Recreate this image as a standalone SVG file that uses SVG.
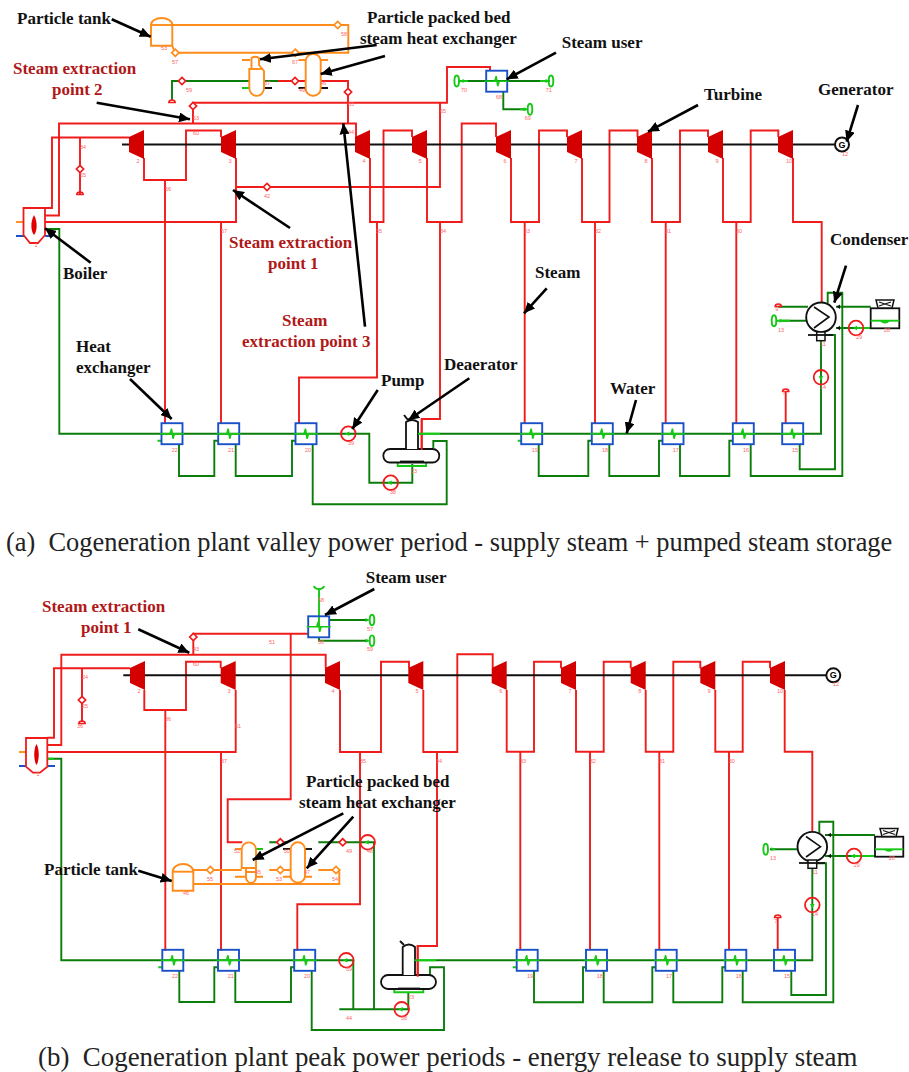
<svg xmlns="http://www.w3.org/2000/svg" width="909" height="1072" viewBox="0 0 909 1072">
<style>
text{font-family:"Liberation Serif","Times New Roman",serif}
.lb{font-size:17px;font-weight:bold;fill:#111}
.rd{font-size:17px;font-weight:bold;fill:#b01818}
.cap{font-size:26.4px;fill:#222;white-space:pre}
.n{font-family:"Liberation Sans",Arial,sans-serif;font-size:5.5px;fill:#f66;text-anchor:middle}
.l{fill:none;stroke-width:1.9;stroke-linejoin:miter}
.s{stroke:#f01c1c}.w{stroke:#0a7d0a}.g{stroke:#14c814}.o{stroke:#ff8c1a}.k{stroke:#111}.b{stroke:#1a50c8}
.sh{fill:none;stroke:#111;stroke-width:2}
.ar{fill:none;stroke:#000;stroke-width:2.6;marker-end:url(#ah)}
.e{fill:none;stroke:#14c814;stroke-width:1.9}
.tr{fill:#14c814}
</style>
<defs>
<marker id="ah" markerUnits="userSpaceOnUse" markerWidth="12" markerHeight="10" refX="11" refY="5" orient="auto"><path d="M0 0L11 5L0 10Z" fill="#000"/></marker>
<path id="tb" d="M0 7L15 0V29L0 22Z" fill="#d40000"/>
<g id="hx"><rect x="-10.5" y="-10.5" width="21" height="21" fill="none" stroke="#1a50c8" stroke-width="1.9"/><path d="M-12 0H12M-5 0L-2 0L-0.5 -5L1 5L2.5 0H5" fill="none" stroke="#14c814" stroke-width="1.5"/></g>
<path id="va" d="M0 -3.6L3.6 0L0 3.6L-3.6 0Z" fill="#fff" stroke-width="1.7"/>
<g id="pu"><circle r="7.3" fill="none" stroke="#f01c1c" stroke-width="1.8"/><path d="M-3.5 0L1 -2.3V2.3Z" fill="#14c814"/></g>
<path id="da" d="M-3.2 0.5C-3.2 -3 3.2 -3 3.2 0.5Z" fill="none" stroke="#f01c1c" stroke-width="1.5"/>
<path id="ta" d="M2.5 0L-1.5 -2V2Z" fill="#14c814"/>
<g id="fan"><path d="M0 0H18L16 8H2Z" fill="#fff" stroke="#111" stroke-width="1.5"/><path d="M3 2L15 6M15 2L3 6" stroke="#111" stroke-width="1.3"/></g>
</defs>

<g id="connectors-a">
<path class="l s" d="M45 208H52V137.5H129M45 215.5H59V123.5H356V137M45 222H236V158M144 158V180H186V130.5H221V137M165 180V423M221 222V423M236 187H440V102.7H193V123.5M440 102.7H447V67H490V71M370 158V222H383.5V130.5H412V137M377 222V377.5H299V423M427 158V222H461.7V123.5H496V137M440 222V419H421.7V450M348 123.5V81H278M511 158V222H539V130.5H567V137M524.7 222V423M582 158V222H609.5V130.5H637.5V137M595 222V423M652 158V222H680V130.5H708V137M665.7 222V423M723 158V222H750.7V130.5H778.3V137M736.3 222V423M793 158V222H821.7V303M785.7 423V392M80 138V195"/>
<path class="l w" d="M45 229H59.3V433.7H348M348 433.7H369.3V482.7H412.3V464M278 81H172V100M179 444V476H214.3V440.7H218M235.7 444V476H292V440.7H295.3M312.7 444V504.3H446.7V441H433.3V448M440 433.7H821V341M538.7 444V476H588.3V440.7H591.7M609.3 444V476H659V440.7H662.3M680 444V476H729.3V440.7H732.7M750.7 444V476H842.3V292.7H827.7V303.3M799.7 444V469.3H835V335H826M778.3 306.7H808M780 320.7H807M836 306.7H870.7M836 328H856M462 81H546M503.3 91.7V109.3H526"/>
<path class="l g" d="M418 433.7H440M397.7 462V466H426V462M157.5 440.7H161.3M517.7 440.7H521M242 88H250M856 328H870.7M458 81H468M540 81H550M520 109.3H528M776 320.7H790"/>
<path class="l k" d="M263 88H272M298.5 88H328"/>
<path class="l o" d="M172.3 25H348.3V52.7H175L172.3 46M242 60H250M264 60H267M298.5 60H328"/>
<path class="l b" d="M16 236H25M45 236H53"/>
<path class="l o" d="M16 222H25"/>
<path d="M122 144.5H835" class="sh"/>
</g>

<g id="a-boiler"><path d="M23.5 208H45V235L38 243H30L23.5 235Z" fill="#fff" stroke="#f01c1c" stroke-width="1.8"/><path d="M34 215C30 222 31 232 34 235C37 232 38 222 34 215Z" fill="#e00000"/><text class="n" x="36" y="247">1</text></g>
<g id="a-t2"><use href="#tb" x="129" y="130"/><text class="n" x="138" y="163">2</text></g>
<g id="a-t3"><use href="#tb" x="221" y="130"/><text class="n" x="230" y="163">3</text></g>
<g id="a-t4"><use href="#tb" x="355" y="130"/><text class="n" x="364" y="163">4</text></g>
<g id="a-t5"><use href="#tb" x="412" y="130"/><text class="n" x="420" y="163">5</text></g>
<g id="a-t6"><use href="#tb" x="496" y="130"/><text class="n" x="505" y="163">6</text></g>
<g id="a-t7"><use href="#tb" x="567" y="130"/><text class="n" x="576" y="163">7</text></g>
<g id="a-t8"><use href="#tb" x="637" y="130"/><text class="n" x="646" y="163">8</text></g>
<g id="a-t9"><use href="#tb" x="708" y="130"/><text class="n" x="717" y="163">9</text></g>
<g id="a-t10"><use href="#tb" x="778" y="130"/><text class="n" x="789" y="163">10</text></g>
<g id="a-gen"><circle cx="842" cy="144.5" r="7" fill="#fff" stroke="#111" stroke-width="2"/><text x="842" y="147.5" font-size="9" font-weight="bold" text-anchor="middle" style="font-family:'Liberation Sans',sans-serif">G</text><text class="n" x="845" y="156">12</text></g>
<g id="a-hx22"><use href="#hx" x="172" y="433.7"/><text class="n" x="174.7" y="452">22</text></g>
<g id="a-hx21"><use href="#hx" x="228.7" y="433.7"/><text class="n" x="231" y="452">21</text></g>
<g id="a-hx20"><use href="#hx" x="306" y="433.7"/><text class="n" x="308" y="452">20</text></g>
<g id="a-hx19"><use href="#hx" x="531.7" y="433.7"/><text class="n" x="534.7" y="452">19</text></g>
<g id="a-hx18"><use href="#hx" x="602.3" y="433.7"/><text class="n" x="605" y="452">18</text></g>
<g id="a-hx17"><use href="#hx" x="673" y="433.7"/><text class="n" x="675.7" y="452">17</text></g>
<g id="a-hx16"><use href="#hx" x="743.3" y="433.7"/><text class="n" x="746" y="452">16</text></g>
<g id="a-hx15"><use href="#hx" x="792.7" y="433.7"/><text class="n" x="795" y="452">15</text></g>
<g id="a-user"><use href="#hx" x="496.7" y="81.2"/><ellipse class="e" cx="456.7" cy="81" rx="2.3" ry="5.5"/><ellipse class="e" cx="551" cy="81" rx="2.3" ry="5.5"/><ellipse class="e" cx="530" cy="109.3" rx="2.3" ry="5.5"/><use href="#ta" x="464" y="81"/><use href="#ta" x="547" y="81"/><use href="#ta" x="525" y="109.3"/><text class="n" x="464" y="92">70</text><text class="n" x="548.7" y="92">71</text><text class="n" x="499" y="99">68</text><text class="n" x="527.7" y="120">69</text></g>
<g id="a-pump39"><use href="#pu" x="348.3" y="433.7"/><text class="n" x="351" y="445">39</text></g>
<g id="a-pump38"><use href="#pu" x="390.7" y="482.7"/><text class="n" x="393" y="494">38</text></g>
<g id="a-pump14"><use href="#pu" transform="translate(821 377.3) rotate(-90)"/><text class="n" x="823" y="389">14</text></g>
<g id="a-pump29"><use href="#pu" x="856" y="328"/><text class="n" x="859" y="339">29</text></g>
<g id="a-deaerator"><rect x="383.3" y="449" width="56" height="13.5" rx="6.7" fill="#fff" stroke="#111" stroke-width="1.8"/><path d="M406 449V422Q412 418 418 422V449" fill="#fff" stroke="#111" stroke-width="1.8"/><path d="M404 415L408 420" stroke="#111" stroke-width="2"/><path d="M421.7 419V450" class="l s"/><path d="M400 461.5H424" stroke="#111" stroke-width="1.8"/><path d="M418 433.7H440" class="l g"/><text class="n" x="414" y="473">23</text></g>
<g id="a-condenser"><circle cx="821" cy="317.3" r="14.8" fill="#fff" stroke="#111" stroke-width="1.9"/><path d="M814 307L829 317L814 328" fill="none" stroke="#111" stroke-width="1.6"/><rect x="816.7" y="332" width="8.3" height="8.7" fill="#fff" stroke="#111" stroke-width="1.5"/><path d="M808 335H833" stroke="#111" stroke-width="1.8"/><use href="#da" x="778.3" y="306"/><ellipse class="e" cx="774" cy="320.7" rx="2.3" ry="5.5"/><use href="#ta" x="781" y="320.7"/><path d="M840 304.5V309L836.5 306.7ZM840 325.8V330.2L836.5 328Z" fill="#111"/><text class="n" x="781" y="332">13</text><text class="n" x="823" y="346">11</text><text class="n" x="776.7" y="311">9</text></g>
<g id="a-tower"><rect x="870.7" y="308.3" width="28.6" height="20" fill="#fff" stroke="#111" stroke-width="1.8"/><use href="#fan" x="876" y="300"/><path d="M870.7 320.7H899.3" class="l g"/><path d="M880 321Q885 326 890 321Z" fill="#14c814"/><text class="n" x="887" y="332">28</text></g>
<g id="a-tank"><path d="M151 45.7V25A10.6 7 0 0 1 172.3 25V45.7Z" fill="#fff" stroke="#ff8c1a" stroke-width="1.9"/><path d="M151 25H172.3" class="l o"/><text class="n" x="164" y="50">53</text></g>
<g id="a-bed1"><path d="M251.5 69V58A6 5 0 0 1 259 58V65L264 71V88A7 7.5 0 0 1 249.3 88V69Z" fill="#fff" stroke="#ff8c1a" stroke-width="1.9"/><path d="M250 69H263" class="l o"/><text class="n" x="267" y="85">37</text></g>
<g id="a-bed2"><rect x="305.7" y="54" width="15" height="41.7" rx="7" fill="#fff" stroke="#ff8c1a" stroke-width="1.9"/><text class="n" x="323" y="85">46</text></g>
<g id="a-valves">
<use href="#va" class="o" x="175.3" y="52.7"/><use href="#va" class="o" x="337.7" y="25"/><use href="#va" class="o" x="295.3" y="52.7"/>
<use href="#va" class="s" x="182" y="81"/><use href="#va" class="s" x="295" y="81"/><use href="#va" class="s" x="348" y="92"/><use href="#va" class="s" x="193" y="106"/><use href="#va" class="s" x="267" y="187"/><use href="#va" class="s" x="80" y="169"/>
<use href="#da" x="172" y="102"/><use href="#da" x="80" y="194"/><use href="#da" x="785.7" y="391"/>
<text class="n" x="175" y="64">57</text><text class="n" x="344" y="36">58</text><text class="n" x="295" y="64">67</text><text class="n" x="189" y="92">59</text><text class="n" x="302" y="92">49</text><text class="n" x="351" y="106">63</text><text class="n" x="196" y="120">53</text><text class="n" x="443" y="113">65</text><text class="n" x="196" y="135">60</text><text class="n" x="351" y="134">44</text><text class="n" x="83" y="149">34</text><text class="n" x="83" y="177">55</text><text class="n" x="168" y="191">56</text><text class="n" x="267" y="198">42</text><text class="n" x="224" y="233">57</text><text class="n" x="379" y="233">35</text><text class="n" x="443" y="233">34</text><text class="n" x="527" y="233">33</text><text class="n" x="598" y="233">32</text><text class="n" x="668" y="233">31</text><text class="n" x="739" y="233">30</text><text class="n" x="784" y="395">7</text>
</g>

<g id="annotations-a">
<text class="lb" x="17" y="24">Particle tank</text><path class="ar" d="M111.7 19.3L150.7 36.7"/>
<text class="lb" x="367" y="23">Particle packed bed</text><text class="lb" x="360" y="44">steam heat exchanger</text><path class="ar" d="M376.7 45L260 59.3"/><path class="ar" d="M385 56L320.7 74"/>
<text class="rd" x="13" y="74">Steam extraction</text><text class="rd" x="52" y="95">point 2</text><path class="ar" d="M96.7 102.7L190 119.3"/>
<text class="lb" x="561.7" y="48">Steam user</text><path class="ar" d="M556 52.7L506.7 79.3"/>
<text class="lb" x="704" y="100">Turbine</text><path class="ar" d="M698 105L648 131.7"/>
<text class="lb" x="818" y="95">Generator</text><path class="ar" d="M858 105L846.7 141.7"/>
<text class="lb" x="63" y="279">Boiler</text><path class="ar" d="M90.7 262.7L45 228.3"/>
<text class="rd" x="229" y="248">Steam extraction</text><text class="rd" x="268" y="269">point 1</text><path class="ar" d="M290 228L233 190"/>
<text class="rd" x="282" y="326">Steam</text><text class="rd" x="242" y="347">extraction point 3</text><path class="ar" d="M365 326.7L343.3 123.3"/>
<text class="lb" x="76" y="352">Heat</text><text class="lb" x="76" y="373">exchanger</text><path class="ar" d="M130 379L171.7 419"/>
<text class="lb" x="381" y="386">Pump</text><path class="ar" d="M377.7 390L352.3 429"/>
<text class="lb" x="444" y="370">Deaerator</text><path class="ar" d="M469.3 378.3L408.3 420"/>
<text class="lb" x="535" y="278">Steam</text><path class="ar" d="M546.7 288.3L524 313.3"/>
<text class="lb" x="830" y="245">Condenser</text><path class="ar" d="M846 265.7L834.3 302.7"/>
<text class="lb" x="610" y="394">Water</text><path class="ar" d="M636 400L626.7 433.3"/>
</g>
<text id="caption-a" class="cap" x="6" y="551" xml:space="preserve">(a)  Cogeneration plant valley power period - supply steam + pumped steam storage</text>

<g id="connectors-b">
<path class="l s" d="M47.3 737.7H54V668.3H130M47.3 745H61.3V654.7H325.7V668M47.3 752H235.7V690M144.3 690V710H186V661.7H220.7V668M165.3 710V950.7M221 752V950.7M193.3 654.7V633.7H308.3M290.7 633.7V799.3H227.7V842.3H242.3M340 690V752H381V661.7H409V668M360 752V904.3H297.3V950.7M423.3 690V752H457.3V654.3H492.7V668M437 752V946H417.7V976.7M506.7 690V751.7H534V661.7H561V668.3M520.3 751.7V950M576 690V751.7H603.7V661.7H630.7V668.3M590 751.7V950M645.7 690V751.7H673.3V661.7H700.3V668.3M659.3 751.7V950M715.3 690V751.7H742.7V661.7H770V668.3M729 751.7V950M784.7 690V751.7H812.3V832M777.7 950V918M82 668.3V722"/>
<path class="l w" d="M47 758.7H61.3V960.3H353.3V1009.3M339.3 1009.3H408.3V991.7M374 1009.3V842.3H318.3M269.3 842.3H288M179.3 971V1002H214.3V967.3H218M235.3 971V1002H291V967.3H294M311.7 971V1030H444V967.3H430V975M436 960.3H812.3V868M534 970.7V1002.3H583V967.3H586M603.7 970.7V1002.3H652.3V967.3H655.7M673.3 970.7V1002.3H722.3V967.3H725.3M742.7 970.7V1002.3H833.3V821.7H819.3V833M791.3 970.7V995H826V863.3H816.7M770 849.3H798.3M825 835H875M825 856H875M329 620H368.3M319 637.3V640.7H368.3"/>
<path class="l g" d="M414.3 960.3H436M394.3 989V992.3H423.3V989M158.3 967.3H162.3M512.7 967.3H516.7M319 590V626.7M256 849H263M47 758.7H54M854 856H875"/>
<path class="l k" d="M283 849H312"/>
<path class="l o" d="M193.3 870H241.7M193.3 884H339.3V870H318.3M269.3 870H290M235 876.7H263M283 876.7H312M235 849H242"/>
<path class="l b" d="M19 766H27M47.3 766H55"/><path class="l o" d="M19 752H27"/>
<path d="M123.3 675.3H826" class="sh"/>
</g>

<g id="b-boiler"><path d="M26 738H47.3V766.7L40 772.7H33L26 766.7Z" fill="#fff" stroke="#f01c1c" stroke-width="1.8"/><path d="M36.5 744C33 750 34 762 36.5 765C39 762 40 750 36.5 744Z" fill="#e00000"/><text class="n" x="38" y="776">1</text></g>
<g id="b-t2"><use href="#tb" x="130" y="661"/><text class="n" x="139" y="693">2</text></g>
<g id="b-t3"><use href="#tb" x="220.7" y="661"/><text class="n" x="229" y="693">3</text></g>
<g id="b-t4"><use href="#tb" x="325" y="661"/><text class="n" x="333" y="693">4</text></g>
<g id="b-t5"><use href="#tb" x="408.3" y="661"/><text class="n" x="417" y="693">5</text></g>
<g id="b-t6"><use href="#tb" x="491.7" y="661"/><text class="n" x="500.7" y="693">6</text></g>
<g id="b-t7"><use href="#tb" x="561" y="661"/><text class="n" x="570" y="693">7</text></g>
<g id="b-t8"><use href="#tb" x="630.7" y="661"/><text class="n" x="639.7" y="693">8</text></g>
<g id="b-t9"><use href="#tb" x="700.3" y="661"/><text class="n" x="709" y="693">9</text></g>
<g id="b-t10"><use href="#tb" x="770" y="661"/><text class="n" x="780" y="693">10</text></g>
<g id="b-gen"><circle cx="833.3" cy="675.3" r="7" fill="#fff" stroke="#111" stroke-width="2"/><text x="833.3" y="678.3" font-size="9" font-weight="bold" text-anchor="middle" style="font-family:'Liberation Sans',sans-serif">G</text><text class="n" x="836" y="686">12</text></g>
<g id="b-hx22"><use href="#hx" x="172.8" y="960.3"/><text class="n" x="175" y="978">22</text></g>
<g id="b-hx21"><use href="#hx" x="228.5" y="960.3"/><text class="n" x="230.7" y="978">21</text></g>
<g id="b-hx20"><use href="#hx" x="304.7" y="960.3"/><text class="n" x="307" y="978">20</text></g>
<g id="b-hx19"><use href="#hx" x="527.2" y="960.3"/><text class="n" x="530" y="978">19</text></g>
<g id="b-hx18"><use href="#hx" x="596.5" y="960.3"/><text class="n" x="599.7" y="978">18</text></g>
<g id="b-hx17"><use href="#hx" x="666.2" y="960.3"/><text class="n" x="669" y="978">17</text></g>
<g id="b-hx16"><use href="#hx" x="735.8" y="960.3"/><text class="n" x="738.7" y="978">16</text></g>
<g id="b-hx15"><use href="#hx" x="784.5" y="960.3"/><text class="n" x="787" y="978">15</text></g>
<g id="b-user"><use href="#hx" x="318.7" y="626.8"/><path class="e" d="M314 586C315 590 323 590 324 586"/><ellipse class="e" cx="372" cy="620" rx="2.3" ry="5.3"/><ellipse class="e" cx="372" cy="640.7" rx="2.3" ry="5.3"/><use href="#ta" x="367" y="620"/><use href="#ta" x="367" y="640.7"/><text class="n" x="321" y="602">58</text><text class="n" x="370" y="631">57</text><text class="n" x="370" y="651">59</text><text class="n" x="321" y="644">56</text></g>
<g id="b-pump39"><use href="#pu" x="346.3" y="960.3"/><text class="n" x="349" y="971">39</text></g>
<g id="b-pump38"><use href="#pu" x="401.7" y="1009.3"/><text class="n" x="404" y="1020">38</text></g>
<g id="b-pump14"><use href="#pu" transform="translate(812.3 905) rotate(-90)"/><text class="n" x="815" y="916">14</text></g>
<g id="b-pump29"><use href="#pu" x="854" y="856"/><text class="n" x="856.7" y="867">29</text></g>
<g id="b-pump48"><use href="#pu" x="367.7" y="842.3"/><text class="n" x="370" y="853">48</text></g>
<g id="b-deaerator"><rect x="381" y="975" width="55" height="14" rx="7" fill="#fff" stroke="#111" stroke-width="1.8"/><path d="M402.7 975V947Q409 942 415 947V975" fill="#fff" stroke="#111" stroke-width="1.8"/><path d="M400 941L404 945" stroke="#111" stroke-width="2"/><path d="M437 946H417.7V976.7" class="l s"/><path d="M398 988.5H420" stroke="#111" stroke-width="1.8"/><path d="M414.3 960.3H436" class="l g"/><text class="n" x="411" y="999">23</text></g>
<g id="b-condenser"><circle cx="812.3" cy="846.7" r="14.8" fill="#fff" stroke="#111" stroke-width="1.9"/><path d="M806 836.5L820.5 846.7L806 857" fill="none" stroke="#111" stroke-width="1.6"/><rect x="808" y="860" width="8.7" height="8.3" fill="#fff" stroke="#111" stroke-width="1.5"/><path d="M799 863H825" stroke="#111" stroke-width="1.8"/><ellipse class="e" cx="765.7" cy="849.3" rx="2.3" ry="5.5"/><use href="#ta" x="773" y="849.3"/><path d="M831 832.8V837.2L827.5 835ZM831 853.8V858.2L827.5 856Z" fill="#111"/><text class="n" x="773" y="860">13</text><text class="n" x="815" y="874">11</text></g>
<g id="b-tower"><rect x="875" y="836.7" width="28.3" height="20" fill="#fff" stroke="#111" stroke-width="1.8"/><use href="#fan" x="880" y="828.5"/><path d="M875 849.3H903.3" class="l g"/><path d="M884 849.5Q889 854 894 849.5Z" fill="#14c814"/><text class="n" x="891.7" y="860">28</text></g>
<g id="b-tank"><path d="M172.7 890.7V871.7A10.3 7.7 0 0 1 193.3 871.7V890.7Z" fill="#fff" stroke="#ff8c1a" stroke-width="1.9"/><path d="M172.7 871.7H193.3" class="l o"/><text class="n" x="186" y="895">46</text></g>
<g id="b-bed1"><path d="M241.7 868V849.5A7.1 7.1 0 0 1 256 849.5V877A5 6 0 0 1 246 877V868Z" fill="#fff" stroke="#ff8c1a" stroke-width="1.9"/><path d="M241.7 868H256M246 872H256" class="l o"/><text class="n" x="258" y="874">45</text><text class="n" x="237" y="853">52</text></g>
<g id="b-bed2"><rect x="290.7" y="842.3" width="14.3" height="40.4" rx="7" fill="#fff" stroke="#ff8c1a" stroke-width="1.9"/><text class="n" x="307" y="874">47</text></g>
<g id="b-valves">
<use href="#va" class="o" x="210.3" y="870"/><use href="#va" class="o" x="280.3" y="870"/><use href="#va" class="o" x="336" y="870"/>
<use href="#va" class="s" x="280.3" y="842.3"/><use href="#va" class="s" x="342.7" y="842.3"/><use href="#va" class="s" x="193.3" y="637"/><use href="#va" class="s" x="82" y="700"/>
<use href="#da" x="82" y="723"/><use href="#da" x="777.7" y="917"/>
<text class="n" x="272" y="644">51</text><text class="n" x="196" y="651">43</text><text class="n" x="196" y="666">60</text><text class="n" x="85" y="679">24</text><text class="n" x="85" y="708">25</text><text class="n" x="80" y="728">36</text><text class="n" x="168" y="721">36</text><text class="n" x="238" y="728">61</text><text class="n" x="224" y="763">37</text><text class="n" x="363" y="763">35</text><text class="n" x="439" y="763">34</text><text class="n" x="523" y="763">33</text><text class="n" x="592.7" y="763">32</text><text class="n" x="662" y="763">31</text><text class="n" x="731.7" y="763">30</text><text class="n" x="286.7" y="853">50</text><text class="n" x="349" y="853">49</text><text class="n" x="210" y="881">55</text><text class="n" x="279" y="881">53</text><text class="n" x="335" y="881">54</text><text class="n" x="349" y="1020">44</text><text class="n" x="775.7" y="923">7</text>
</g>

<g id="annotations-b">
<text class="lb" x="365.7" y="583">Steam user</text><path class="ar" d="M374.3 589L325 615"/>
<text class="rd" x="42" y="612">Steam extraction</text><text class="rd" x="81" y="633">point 1</text><path class="ar" d="M138.3 629.3L189.3 652.7"/>
<text class="lb" x="306" y="787">Particle packed bed</text><text class="lb" x="299" y="808">steam heat exchanger</text><path class="ar" d="M343.3 813.3L252.7 860"/><path class="ar" d="M353.3 816.7L306.7 868.3"/>
<text class="lb" x="44" y="875">Particle tank</text><path class="ar" d="M138.3 870.7L171.7 881"/>
</g>
<text id="caption-b" class="cap" x="38" y="1066" xml:space="preserve" style="font-size:26.9px">(b)  Cogeneration plant peak power periods - energy release to supply steam</text>
</svg>
